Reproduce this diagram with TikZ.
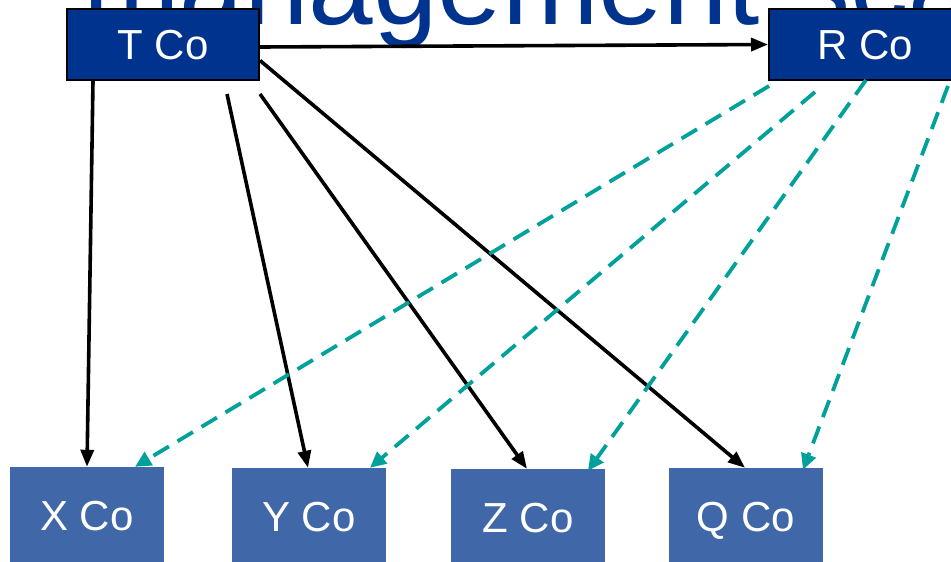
\documentclass[tikz,border=0pt]{standalone}
\usepackage{fontspec}
\setmainfont{Liberation Sans}
\usetikzlibrary{arrows.meta}
\definecolor{topblue}{RGB}{0,51,141}
\definecolor{subblue}{RGB}{64,103,168}
\definecolor{linkteal}{RGB}{0,161,154}

\begin{document}
\begin{tikzpicture}[x=1pt,y=-1pt,
	topbox/.style={draw=black,line width=2pt,fill=topblue,text=white,minimum width=192pt,minimum height=71pt,inner sep=0pt,text depth=0pt,font=\fontsize{42}{42}\selectfont},
	subbox/.style={fill=subblue,text=white,minimum width=154pt,minimum height=97pt,inner sep=0pt,text depth=0pt,font=\fontsize{42}{42}\selectfont},
	ownline/.style={line width=3.6pt,-{Triangle[length=17pt,width=13pt]}},
	linkline/.style={linkteal,line width=3.8pt,dash pattern=on 18pt off 10pt,-{Triangle[length=16pt,width=15pt]}}]
	\useasboundingbox (0,0) rectangle (951,562);
	% Title %
	\node (title) [anchor=base west,inner sep=0pt,text=topblue,font=\fontsize{116}{116}\selectfont] at (83,24) {management sca};
	% Parent Companies %
	\node (tco) [topbox] at (163,44.5) {T Co};
	\node (rco) [topbox] at (865,44.5) {R Co};
	% Subsidiaries %
	\node (xco) [subbox] at (87,515.5) {X Co};
	\node (yco) [subbox] at (309,516.5) {Y Co};
	\node (zco) [subbox] at (528,517.5) {Z Co};
	\node (qco) [subbox] at (746,516.5) {Q Co};
	% Free Ends %
	\coordinate (tyfrom) at (227,94);
	\coordinate (tzfrom) at (260,94);
	\coordinate (rxfrom) at (769,86);
	\coordinate (ryfrom) at (815,92);
	\coordinate (rzfrom) at (866,80);
	\coordinate (rqfrom) at (948,86);
	% T Co Holdings %
	\draw [ownline] ([yshift=-2.5pt]tco.east) -- (rco.west);
	\draw [ownline] ([xshift=27pt]tco.south west) -- (xco.north);
	\draw [ownline] (tyfrom) -- ([xshift=-1pt]yco.north);
	\draw [ownline] (tzfrom) -- ([xshift=-1pt]zco.north);
	\draw [ownline] ([yshift=-16pt]tco.east) -- ([xshift=-1pt]qco.north);
	% R Co Holdings %
	\draw [linkline] (rxfrom) -- ([xshift=48pt]xco.north);
	\draw [linkline] (ryfrom) -- ([xshift=61pt]yco.north);
	\draw [linkline] (rzfrom) -- ([xshift=60pt,yshift=-2pt]zco.north);
	\draw [linkline] (rqfrom) -- ([xshift=57pt,yshift=-2pt]qco.north);
\end{tikzpicture}
\end{document}
